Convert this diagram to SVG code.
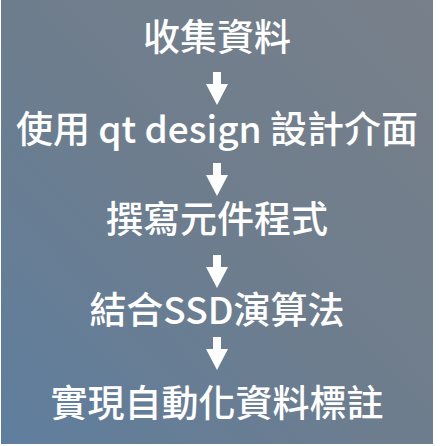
<svg xmlns="http://www.w3.org/2000/svg" width="440" height="446" viewBox="0 0 440 446">
<defs>
<linearGradient id="bg" x1="1" y1="0" x2="0" y2="1">
<stop offset="0" stop-color="#78808a"/>
<stop offset="0.5" stop-color="#6e7d8d"/>
<stop offset="1" stop-color="#5f7e9e"/>
</linearGradient>
<style>
.t{font-family:"Noto Sans CJK TC","Noto Sans",sans-serif;font-size:37px;font-weight:500;fill:#ffffff;text-anchor:middle}
.a{fill:#ffffff}
</style>
<path id="arr" d="M-4,0 H4 V12 H11 L0,33 L-11,12 H-4 Z"/>
</defs>
<rect width="440" height="446" fill="#ffffff"/>
<rect x="1" y="0" width="432" height="444" fill="url(#bg)"/>
<g id="n1"><text class="t" x="217" y="51">收集資料</text></g>
<g id="n2"><text class="t" x="217" y="143">使用 qt design 設計介面</text></g>
<g id="n3"><text class="t" x="217" y="233">撰寫元件程式</text></g>
<g id="n4"><text class="t" x="217" y="324">結合SSD演算法</text></g>
<g id="n5"><text class="t" x="217" y="417">實現自動化資料標註</text></g>
<g id="connectors" class="a">
<use href="#arr" x="217" y="72"/>
<use href="#arr" x="217" y="163"/>
<use href="#arr" x="217" y="255"/>
<use href="#arr" x="217" y="337"/>
</g>
</svg>
